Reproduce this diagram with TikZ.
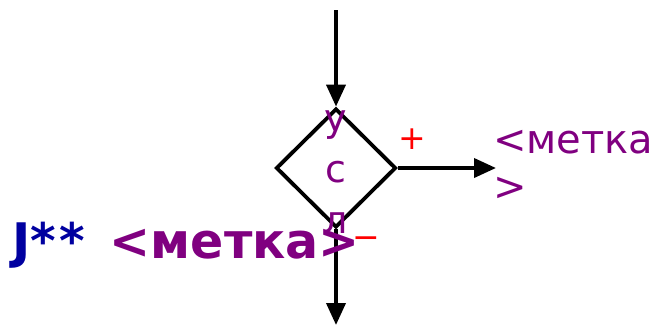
\documentclass[tikz,border=0pt]{standalone}
\usepackage{fontspec}
\setmainfont{DejaVu Sans}
\usetikzlibrary{shapes.geometric,arrows.meta}
\definecolor{lblpurple}{RGB}{128,0,128}
\definecolor{lblblue}{RGB}{0,0,160}
\definecolor{lblred}{RGB}{255,0,0}
\tikzset{
  flow/.style={line width=3.8pt,-{Triangle[length=22pt,width=19pt]}},
  decision/.style={shape=diamond,draw=black,line width=3.8pt,minimum width=120pt,minimum height=119pt,inner sep=0pt},
  lbl/.style={text=lblpurple,inner sep=0pt,font=\fontsize{40}{47}\selectfont},
  sign/.style={text=lblred,inner sep=0pt,font=\fontsize{33}{36}\selectfont},
}
\begin{document}
\begin{tikzpicture}[x=1pt,y=-1pt]
\useasboundingbox (0,0) rectangle (654,325);
\node[decision] (d) at (336,168) {};
\coordinate (top) at (336,10);
\coordinate (bot) at (336,325);
\coordinate (right) at (496,168);
\draw[flow] (top) -- (d.north);
\draw[flow] (d.south) -- (bot);
\draw[flow] (d.east) -- (right);
\node[lbl,align=center,anchor=base,font=\fontsize{38}{51}\selectfont] (cond) at (336,233) {у\\с\\л};
\node[lbl,align=left,anchor=base west] (lab) at (493,200) {<метка\\>};
\node[sign,anchor=base] (plus) at (412,149) {+};
\node[sign,anchor=base] (minus) at (366,248) {−};
\node[inner sep=0pt,anchor=base west,font=\bfseries\fontsize{49}{55}\selectfont,text=lblpurple] (goto) at (12,258) {\textcolor{lblblue}{J{*}\hspace{3pt}{*}}\hspace{8pt} <метка>};
\end{tikzpicture}
\end{document}
